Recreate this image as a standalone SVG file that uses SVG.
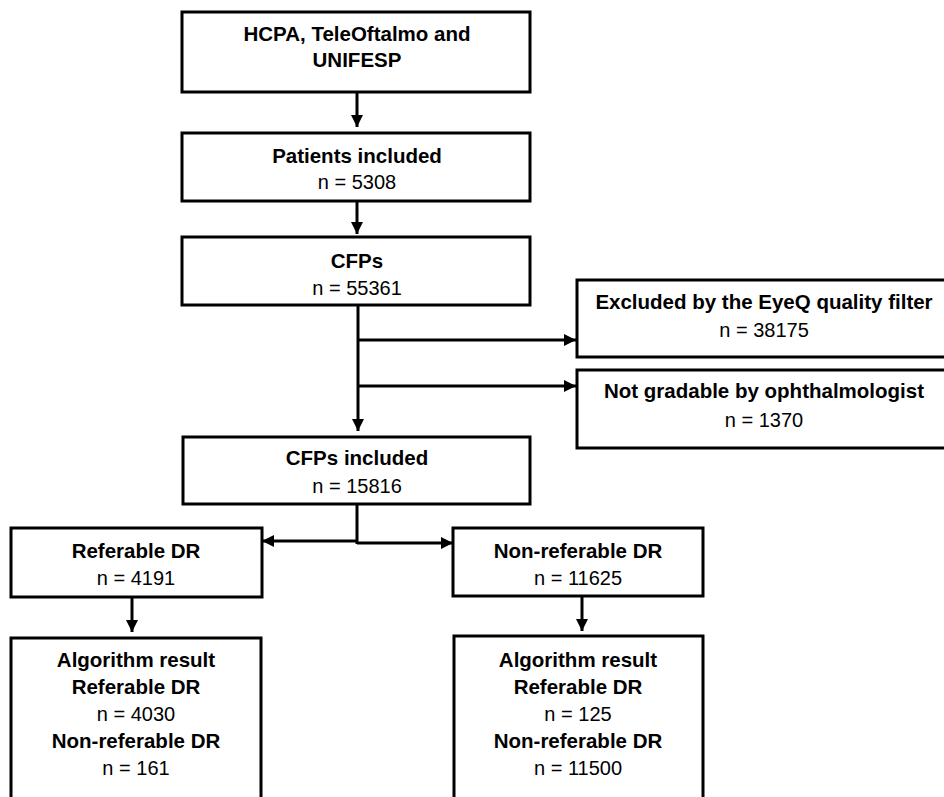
<svg xmlns="http://www.w3.org/2000/svg" width="944" height="797" viewBox="0 0 944 797">
<style>
.box{fill:#fff;stroke:#000;stroke-width:3}
.b{font-family:"Liberation Sans",Arial,sans-serif;font-size:20.5px;font-weight:bold;fill:#000;text-anchor:middle}
.r{font-family:"Liberation Sans",Arial,sans-serif;font-size:20px;fill:#000;text-anchor:middle}
.ln{fill:none;stroke:#000;stroke-width:3}
</style>
<defs>
<marker id="ah" markerUnits="userSpaceOnUse" viewBox="0 0 12 12" markerWidth="12" markerHeight="12" refX="12" refY="6" orient="auto">
<path d="M0,0 L12,6 L0,12 z" fill="#000"/>
</marker>
</defs>
<rect width="944" height="797" fill="#fff"/>
<g id="connectors">
<path class="ln" d="M357,92 V127" marker-end="url(#ah)"/>
<path class="ln" d="M357,201 V234" marker-end="url(#ah)"/>
<path class="ln" d="M358,305 V431" marker-end="url(#ah)"/>
<path class="ln" d="M358,340 H576" marker-end="url(#ah)"/>
<path class="ln" d="M358,386 H576" marker-end="url(#ah)"/>
<path class="ln" d="M357,504 V544"/>
<path class="ln" d="M357,541 H262" marker-end="url(#ah)"/>
<path class="ln" d="M357,543 H453" marker-end="url(#ah)"/>
<path class="ln" d="M132,597 V632" marker-end="url(#ah)"/>
<path class="ln" d="M582,596 V631" marker-end="url(#ah)"/>
</g>
<g id="n1">
<rect class="box" x="182" y="12" width="348" height="80"/>
<text class="b" x="357" y="41">HCPA, TeleOftalmo and</text>
<text class="b" x="357" y="67">UNIFESP</text>
</g>
<g id="n2">
<rect class="box" x="182" y="133" width="348" height="68"/>
<text class="b" x="357" y="163">Patients included</text>
<text class="r" x="357" y="189">n = 5308</text>
</g>
<g id="n3">
<rect class="box" x="182" y="237" width="348" height="68"/>
<text class="b" x="357" y="268">CFPs</text>
<text class="r" x="357" y="295">n = 55361</text>
</g>
<g id="n4">
<rect class="box" x="577" y="280" width="375" height="77"/>
<text class="b" x="764" y="309">Excluded by the EyeQ quality filter</text>
<text class="r" x="764" y="337">n = 38175</text>
</g>
<g id="n5">
<rect class="box" x="577" y="370" width="375" height="78"/>
<text class="b" x="764" y="398">Not gradable by ophthalmologist</text>
<text class="r" x="764" y="427">n = 1370</text>
</g>
<g id="n6">
<rect class="box" x="183" y="437" width="347" height="67"/>
<text class="b" x="357" y="465">CFPs included</text>
<text class="r" x="357" y="493">n = 15816</text>
</g>
<g id="n7">
<rect class="box" x="11" y="528" width="251" height="69"/>
<text class="b" x="136" y="558">Referable DR</text>
<text class="r" x="136" y="585">n = 4191</text>
</g>
<g id="n8">
<rect class="box" x="453" y="528" width="250" height="68"/>
<text class="b" x="578" y="558">Non-referable DR</text>
<text class="r" x="578" y="585">n = 11625</text>
</g>
<g id="n9">
<rect class="box" x="11" y="638" width="250" height="170"/>
<text class="b" x="136" y="667">Algorithm result</text>
<text class="b" x="136" y="694">Referable DR</text>
<text class="r" x="136" y="721">n = 4030</text>
<text class="b" x="136" y="748">Non-referable DR</text>
<text class="r" x="136" y="775">n = 161</text>
</g>
<g id="n10">
<rect class="box" x="454" y="636" width="249" height="172"/>
<text class="b" x="578" y="667">Algorithm result</text>
<text class="b" x="578" y="694">Referable DR</text>
<text class="r" x="578" y="721">n = 125</text>
<text class="b" x="578" y="748">Non-referable DR</text>
<text class="r" x="578" y="775">n = 11500</text>
</g>
</svg>
